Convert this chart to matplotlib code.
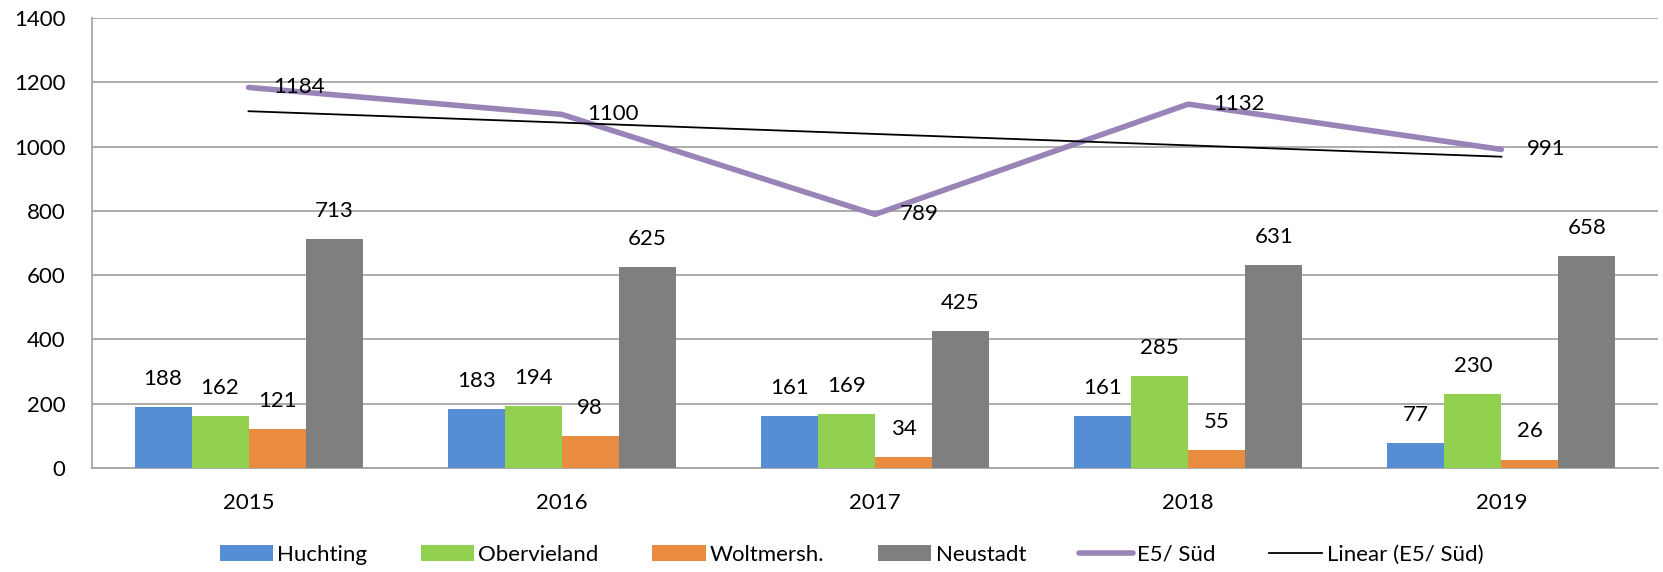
import numpy as np
import matplotlib
matplotlib.use('Agg')
import matplotlib.pyplot as plt

# Daten
jahre = ['2015', '2016', '2017', '2018', '2019']
huchting = [188, 183, 161, 161, 77]
obervieland = [162, 194, 169, 285, 230]
woltmersh = [121, 98, 34, 55, 26]
neustadt = [713, 625, 425, 631, 658]
e5_sued = [1184, 1100, 789, 1132, 991]

plt.rcParams['font.family'] = ['Lato', 'DejaVu Sans']

fig = plt.figure(figsize=(16.63, 5.72), dpi=100)
ax = fig.add_axes([0.0553, 0.182, 0.9417, 0.7865])

x = np.arange(len(jahre))
breite = 0.182
reihen = [
    (huchting, 'Huchting', '#558ED5'),
    (obervieland, 'Obervieland', '#92D050'),
    (woltmersh, 'Woltmersh.', '#E98C40'),
    (neustadt, 'Neustadt', '#7F7F7F'),
]
for i, (werte, name, farbe) in enumerate(reihen):
    pos = x + (i - 1.5) * breite
    ax.bar(pos, werte, width=breite, color=farbe, label=name, zorder=3)
    for p, v in zip(pos, werte):
        ax.annotate(str(v), (p, v), xytext=(0, 13), textcoords='offset points',
                    ha='center', va='bottom', fontsize=16)

# Linie E5/ Süd
ax.plot(x, e5_sued, color='#9984B8', linewidth=4, label='E5/ Süd', zorder=4,
        solid_capstyle='round')
for xi, v in zip(x, e5_sued):
    ax.annotate(str(v), (xi, v), xytext=(18, 0), textcoords='offset points',
                ha='left', va='center', fontsize=16, zorder=6)

# Linearer Trend
k, d = np.polyfit(x, e5_sued, 1)
ax.plot(x, k * x + d, color='black', linewidth=1.3, label='Linear (E5/ Süd)', zorder=5)

# Achsen
ax.set_ylim(0, 1400)
ax.set_yticks(range(0, 1401, 200))
ax.set_xlim(-0.5, len(jahre) - 0.5)
ax.set_xticks(x)
ax.set_xticklabels(jahre)
ax.tick_params(axis='both', length=0, labelsize=16)
ax.tick_params(axis='x', pad=18)
ax.tick_params(axis='y', pad=19)
ax.grid(axis='y', color='#A6A6A6', linewidth=1.3, zorder=0)
for s in ['top', 'right']:
    ax.spines[s].set_visible(False)
ax.spines['left'].set_color('#A6A6A6')
ax.spines['left'].set_linewidth(1.3)
ax.spines['bottom'].set_color('#A6A6A6')
ax.spines['bottom'].set_linewidth(1.3)

# Legende in der Reihenfolge des Originals
h, l = ax.get_legend_handles_labels()
reihenfolge = [2, 3, 4, 5, 0, 1]
ax.legend([h[i] for i in reihenfolge], [l[i] for i in reihenfolge],
          loc='center', bbox_to_anchor=(0.485, -0.193), ncol=6, frameon=False,
          fontsize=16, handlelength=2.4, handletextpad=0.2, columnspacing=2.4)

fig.savefig('out.png', dpi=100)
